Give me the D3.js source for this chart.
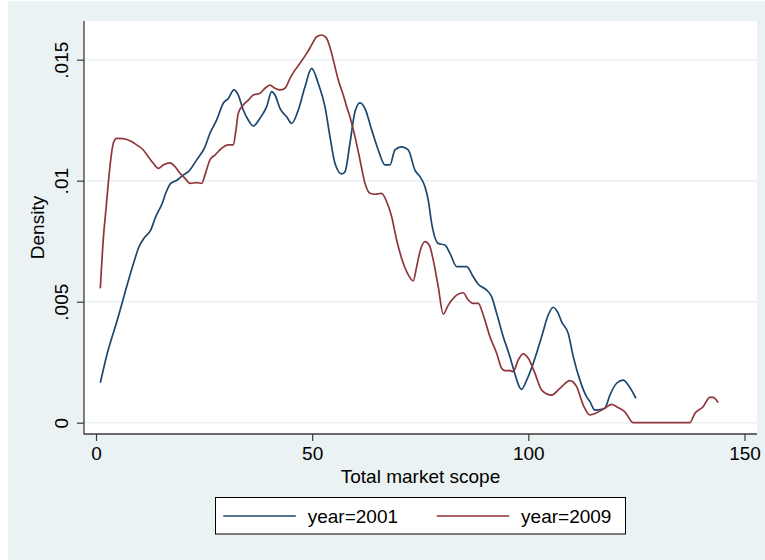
<!DOCTYPE html>
<html>
<head>
<meta charset="utf-8">
<script src="https://cdn.jsdelivr.net/npm/d3@7"></script>
<style>
  html, body { margin: 0; padding: 0; background: #ffffff; }
  svg { display: block; font-family: "Liberation Sans", Arial, Helvetica, sans-serif; }
</style>
</head>
<body>
<svg id="chart" width="765" height="560"></svg>
<script>
// Kernel density of total market scope, by survey year
const scope2001 = [1.0, 2.61, 4.93, 6.87, 8.79, 9.94, 11.1, 12.65, 13.81, 15.33, 16.12, 17.28, 18.8, 20.19, 21.35,
  23.29, 25.21, 26.36, 27.91, 29.44, 30.6, 31.91, 32.91, 34.07, 35.22, 36.38, 37.93, 39.48, 40.63, 41.4, 42.55,
  44.1, 45.26, 46.79, 48.34, 49.88, 51.41, 52.96, 54.12, 55.27, 56.82, 57.59, 58.74, 59.9, 61.06, 62.21, 63.76,
  65.29, 66.84, 67.99, 69.15, 70.7, 72.22, 73.77, 74.93, 76.09, 76.85, 77.64, 79.16, 80.71, 81.87, 83.42, 85.73,
  87.26, 88.42, 90.36, 91.51, 92.67, 94.2, 95.74, 96.51, 98.45, 99.61, 101.13, 103.08, 104.6, 105.76, 106.92,
  107.7, 109.23, 110.39, 111.93, 113.48, 114.25, 115.4, 116.95, 117.71, 118.87, 120.42, 121.95, 123.1, 124.88];
const density2001 = [0.00165, 0.00287, 0.00424, 0.00548, 0.00665, 0.00727, 0.00762, 0.00796, 0.00851, 0.00907,
  0.00948, 0.00989, 0.01003, 0.01024, 0.01037, 0.01086, 0.01140, 0.01196, 0.01251, 0.01320, 0.01340, 0.01375,
  0.01354, 0.01292, 0.01251, 0.01226, 0.01258, 0.01306, 0.01368, 0.01354, 0.01299, 0.01264, 0.01237, 0.01292,
  0.01388, 0.01464, 0.01402, 0.01306, 0.01182, 0.01072, 0.01028, 0.01037, 0.01155, 0.01285, 0.01322, 0.01299,
  0.01210, 0.01127, 0.01065, 0.01065, 0.01127, 0.01140, 0.01127, 0.01044, 0.01017, 0.00975, 0.00920, 0.00824,
  0.00741, 0.00734, 0.00700, 0.00645, 0.00645, 0.00603, 0.00572, 0.00548, 0.00521, 0.00452, 0.00355, 0.00273,
  0.00225, 0.00138, 0.00176, 0.00245, 0.00355, 0.00445, 0.00477, 0.00452, 0.00417, 0.00369, 0.00273, 0.00176,
  0.00107, 0.00087, 0.00052, 0.00055, 0.00060, 0.00114, 0.00163, 0.00176, 0.00156, 0.00101];

const scope2009 = [1.0, 1.85, 2.08, 2.84, 3.40, 4.0, 4.79, 6.31, 7.86, 9.41, 10.94, 12.1, 13.25, 14.41, 15.56,
  17.11, 18.27, 19.43, 20.58, 21.74, 23.29, 24.45, 25.21, 26.36, 27.52, 29.07, 30.6, 31.75, 32.38, 32.91, 34.07,
  35.22, 36.38, 37.93, 39.08, 40.24, 41.4, 42.55, 43.71, 44.87, 46.02, 47.18, 48.73, 49.88, 51.04, 52.2, 53.35,
  54.51, 55.27, 56.04, 57.19, 57.98, 58.74, 59.9, 61.06, 62.21, 63.37, 64.52, 66.07, 67.23, 68.39, 69.54, 70.7,
  71.86, 73.38, 74.17, 74.93, 76.09, 77.08, 78.01, 79.16, 80.32, 81.48, 83.02, 84.94, 86.1, 87.26, 88.42, 89.57,
  91.12, 92.67, 93.83, 94.59, 95.74, 96.51, 97.66, 98.82, 99.98, 101.53, 103.08, 105.39, 107.31, 109.62, 111.17,
  112.7, 114.25, 115.8, 117.71, 119.26, 120.42, 122.34, 124.26, 137.36, 138.52, 140.43, 141.98, 142.75, 143.91];
const density2009 = [0.00555, 0.00796, 0.00838, 0.00989, 0.01086, 0.01155, 0.01175, 0.01174, 0.01165, 0.01148,
  0.01127, 0.01099, 0.01072, 0.01051, 0.01065, 0.01074, 0.01058, 0.01031, 0.01010, 0.00989, 0.00992, 0.00989,
  0.01024, 0.01086, 0.01106, 0.01134, 0.01148, 0.01148, 0.01210, 0.01279, 0.01313, 0.01333, 0.01354, 0.01361,
  0.01382, 0.01395, 0.01382, 0.01375, 0.01382, 0.01423, 0.01457, 0.01485, 0.01526, 0.01561, 0.01595, 0.01602,
  0.01588, 0.01526, 0.01471, 0.01416, 0.01354, 0.01306, 0.01264, 0.01182, 0.01086, 0.00989, 0.00948, 0.00944,
  0.00948, 0.00913, 0.00851, 0.00755, 0.00679, 0.00624, 0.00586, 0.00645, 0.00707, 0.00748, 0.00734, 0.00672,
  0.00562, 0.00449, 0.00486, 0.00521, 0.00537, 0.00507, 0.00493, 0.00493, 0.00445, 0.00355, 0.00287, 0.00225,
  0.00215, 0.00215, 0.00211, 0.00259, 0.00284, 0.00266, 0.00204, 0.00135, 0.00114, 0.00142, 0.00174, 0.00149,
  0.00073, 0.00032, 0.00041, 0.00060, 0.00076, 0.00066, 0.00045, 0, 0, 0.00039, 0.00066, 0.00105, 0.00105, 0.00083];

const xTicks = [0, 50, 100, 150];
const yTicks = [0, 0.005, 0.01, 0.015];
const yTickLabels = ["0", ".005", ".01", ".015"];
const seriesNames = ["year=2001", "year=2009"];
const seriesColors = ["#1a476f", "#90353b"];

const svg = d3.select("#chart");
const W = 765, H = 560;
const plot = { left: 84, right: 757, top: 21, bottom: 434 };

// graph region
svg.append("rect").attr("x", 0).attr("y", 0).attr("width", W).attr("height", H).attr("fill", "#ffffff");
svg.append("rect").attr("x", 8).attr("y", 1).attr("width", W - 8).attr("height", H - 1).attr("fill", "#eaf2f3");
// plot region
svg.append("rect")
  .attr("x", plot.left).attr("y", plot.top)
  .attr("width", plot.right - plot.left).attr("height", plot.bottom - plot.top)
  .attr("fill", "#ffffff");

const x = d3.scaleLinear().domain([0, 150]).range([96, 744.5]);
const y = d3.scaleLinear().domain([0, 0.015]).range([422.7, 59.7]);

// gridlines
svg.append("g").selectAll("line").data(yTicks).join("line")
  .attr("x1", plot.left + 1).attr("x2", plot.right)
  .attr("y1", d => y(d)).attr("y2", d => y(d))
  .attr("stroke", "#eaf2f3").attr("stroke-width", 1.5);

// density curves
const line = d3.line().x(d => x(d[0])).y(d => y(d[1])).curve(d3.curveMonotoneX);
const series = [
  d3.zip(scope2001, density2001),
  d3.zip(scope2009, density2009)
];
svg.append("g").selectAll("path").data(series).join("path")
  .attr("d", line)
  .attr("fill", "none")
  .attr("stroke", (d, i) => seriesColors[i])
  .attr("stroke-width", 1.7)
  .attr("stroke-linejoin", "round");

const axisColor = "#3a3a3a";

// x axis
const xAxis = svg.append("g").attr("transform", `translate(0,${plot.bottom})`)
  .call(d3.axisBottom(x).tickValues(xTicks).tickSize(7).tickPadding(6).tickFormat(d3.format("d")));
xAxis.select(".domain").remove();
xAxis.selectAll(".tick line").attr("stroke", axisColor).attr("stroke-width", 1.2);
xAxis.selectAll(".tick text").attr("font-size", 19).attr("fill", "#000")
  .attr("font-family", "Liberation Sans, Arial, sans-serif")
  .attr("dy", null).attr("y", 25.5);

// y axis
const yAxis = svg.append("g").attr("transform", `translate(${plot.left},0)`)
  .call(d3.axisLeft(y).tickValues(yTicks).tickSize(7).tickFormat((d, i) => yTickLabels[i]));
yAxis.select(".domain").remove();
yAxis.selectAll(".tick line").attr("stroke", axisColor).attr("stroke-width", 1.2);
yAxis.selectAll(".tick text")
  .attr("font-size", 19).attr("fill", "#000")
  .attr("font-family", "Liberation Sans, Arial, sans-serif")
  .attr("x", null).attr("dy", null)
  .attr("text-anchor", "middle")
  .attr("transform", "translate(-16,0) rotate(-90)");

// axis lines
svg.append("line").attr("x1", plot.left).attr("x2", plot.left)
  .attr("y1", plot.top).attr("y2", plot.bottom + 0.5)
  .attr("stroke", axisColor).attr("stroke-width", 1.3);
svg.append("line").attr("x1", plot.left).attr("x2", plot.right)
  .attr("y1", plot.bottom).attr("y2", plot.bottom)
  .attr("stroke", axisColor).attr("stroke-width", 1.3);

// axis titles
svg.append("text")
  .attr("x", (plot.left + plot.right) / 2).attr("y", 482.7)
  .attr("text-anchor", "middle").attr("font-size", 19).attr("fill", "#000")
  .text("Total market scope");
svg.append("text")
  .attr("transform", `translate(43.5,${(plot.top + plot.bottom) / 2}) rotate(-90)`)
  .attr("text-anchor", "middle").attr("font-size", 19).attr("fill", "#000")
  .text("Density");

// legend
const legend = svg.append("g");
legend.append("rect")
  .attr("x", 215.5).attr("y", 497.5).attr("width", 410).attr("height", 36.5)
  .attr("fill", "#ffffff").attr("stroke", "#000").attr("stroke-width", 1);
const legendKeyX = [223.3, 436.7];
const legendItems = legend.selectAll("g.item").data(seriesNames).join("g").attr("class", "item");
legendItems.append("line")
  .attr("x1", (d, i) => legendKeyX[i]).attr("x2", (d, i) => legendKeyX[i] + 72.5)
  .attr("y1", 516).attr("y2", 516)
  .attr("stroke", (d, i) => seriesColors[i]).attr("stroke-width", 1.7);
legendItems.append("text")
  .attr("x", (d, i) => legendKeyX[i] + 84.4).attr("y", 523)
  .attr("font-size", 19).attr("fill", "#000")
  .text(d => d);
</script>
</body>
</html>
